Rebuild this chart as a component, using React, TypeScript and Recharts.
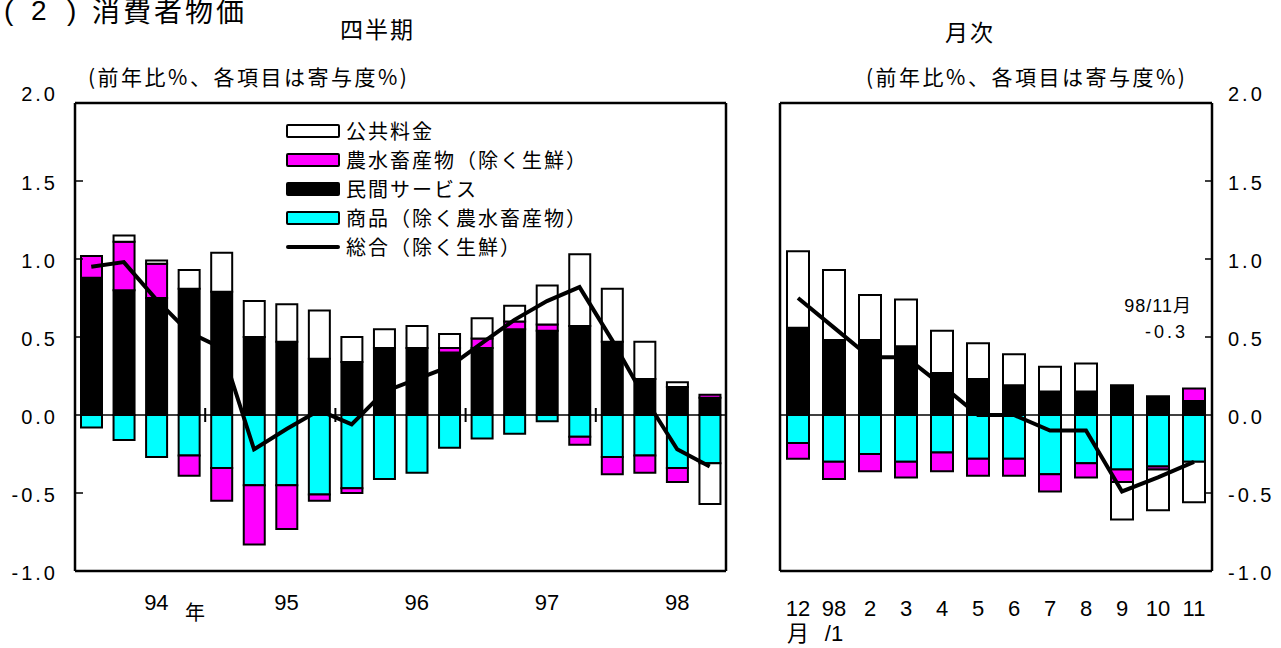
import { ComposedChart, Bar, Line, XAxis, YAxis, ReferenceLine, Legend, CartesianGrid } from 'recharts'

const NUM_FONT = "'Liberation Sans', Arial, 'Noto Sans CJK JP', sans-serif"
const JP_FONT = "'Noto Sans CJK JP', 'Noto Sans CJK SC', sans-serif"

// 四半期 (94/1Q - 98/4Q)
const quarters = [
  '94Q1', '94Q2', '94Q3', '94Q4', '95Q1', '95Q2', '95Q3', '95Q4', '96Q1', '96Q2',
  '96Q3', '96Q4', '97Q1', '97Q2', '97Q3', '97Q4', '98Q1', '98Q2', '98Q3', '98Q4',
]
const quarterTickLabels = ['', '', '94', '', '', '', '95', '', '', '', '96', '', '', '', '97', '', '', '', '98', '']
const yearStarts = ['95Q1', '96Q1', '97Q1', '98Q1']
const qPublic = [0, 0.04, 0.02, 0.12, 0.25, 0.23, 0.24, 0.31, 0.16, 0.12, 0.14, 0.09, 0.13, 0.1, 0.25, 0.46, 0.34, 0.24, 0.03, -0.26]
const qFarm = [0.14, 0.31, 0.22, -0.13, -0.21, -0.38, -0.28, -0.04, -0.03, 0, 0, 0.03, 0.06, 0.05, 0.04, -0.05, -0.11, -0.11, -0.09, 0.02]
const qServices = [0.88, 0.8, 0.75, 0.81, 0.79, 0.5, 0.47, 0.36, 0.34, 0.43, 0.43, 0.4, 0.43, 0.55, 0.54, 0.57, 0.47, 0.23, 0.18, 0.11]
const qGoods = [-0.08, -0.16, -0.27, -0.26, -0.34, -0.45, -0.45, -0.51, -0.47, -0.41, -0.37, -0.21, -0.15, -0.12, -0.04, -0.14, -0.27, -0.26, -0.34, -0.31]
const qTotal = [0.95, 0.98, 0.74, 0.53, 0.43, -0.22, -0.09, 0.03, -0.06, 0.15, 0.23, 0.31, 0.46, 0.61, 0.73, 0.82, 0.48, 0.11, -0.22, -0.33]

// 月次 (97/12 - 98/11)
const months = ['97/12', '98/1', '98/2', '98/3', '98/4', '98/5', '98/6', '98/7', '98/8', '98/9', '98/10', '98/11']
const monthTickTop = ['12', '98', '2', '3', '4', '5', '6', '7', '8', '9', '10', '11']
const monthTickBottom = ['月', '/1', '', '', '', '', '', '', '', '', '', '']
const mPublic = [0.49, 0.45, 0.29, 0.3, 0.27, 0.23, 0.2, 0.16, 0.18, -0.24, -0.26, -0.26]
const mFarm = [-0.1, -0.11, -0.11, -0.1, -0.12, -0.11, -0.11, -0.11, -0.09, -0.08, -0.02, 0.08]
const mServices = [0.56, 0.48, 0.48, 0.44, 0.27, 0.23, 0.19, 0.15, 0.15, 0.19, 0.12, 0.09]
const mGoods = [-0.18, -0.3, -0.25, -0.3, -0.24, -0.28, -0.28, -0.38, -0.31, -0.35, -0.33, -0.3]
const mTotal = [0.75, 0.56, 0.37, 0.37, 0.19, 0, 0, -0.1, -0.1, -0.49, -0.4, -0.3]

const yTicks = [-1, -0.5, 0, 0.5, 1, 1.5, 2]
const yMinorTicks = [1.5, 1, 0.5, -0.5]

// stack order: first series sits next to zero on each side
const SERIES = [
  { key: 'goods', name: '商品（除く農水畜産物）', color: '#00ffff' },
  { key: 'services', name: '民間サービス', color: '#000000' },
  { key: 'farm', name: '農水畜産物（除く生鮮）', color: '#ff00ff' },
  { key: 'public', name: '公共料金', color: '#ffffff' },
]
const TOTAL_NAME = '総合（除く生鮮）'
const LEGEND_ORDER = ['public', 'farm', 'services', 'goods']

const quarterData = quarters.map((q, i) => ({
  q, public: qPublic[i], farm: qFarm[i], services: qServices[i], goods: qGoods[i], total: qTotal[i],
}))
const monthData = months.map((m, i) => ({
  m, public: mPublic[i], farm: mFarm[i], services: mServices[i], goods: mGoods[i], total: mTotal[i],
}))

// plot frame: grid lines only on the four edges of the plot area
const frameH = ({ offset }: any) => [offset.top, offset.top + offset.height]
const frameV = ({ offset }: any) => [offset.left, offset.left + offset.width]
const frame = (
  <CartesianGrid
    stroke="#000"
    strokeWidth={2.5}
    horizontalCoordinatesGenerator={frameH}
    verticalCoordinatesGenerator={frameV}
  />
)

const stackBars = (size: number) =>
  SERIES.map(s => (
    <Bar
      key={s.key}
      dataKey={s.key}
      name={s.name}
      stackId="cpi"
      fill={s.color}
      stroke="#000"
      strokeWidth={2}
      barSize={size}
      isAnimationActive={false}
    />
  ))

// value label plus the short inward tick of the frame
const YTick = (side: 'left' | 'right', margin: number) => (props: any) => {
  const { x, y, payload } = props
  const v = Number(payload.value)
  const axisX = side === 'left' ? x + margin : x - margin
  const inner = side === 'left' ? axisX + 8 : axisX - 7
  return (
    <g>
      {yMinorTicks.includes(v) && <line x1={axisX} x2={inner} y1={y} y2={y} stroke="#000" strokeWidth={1.5} />}
      <text
        x={x}
        y={y + (v === 2 ? -9 : 1.5)}
        dy="0.36em"
        textAnchor={side === 'left' ? 'end' : 'start'}
        fontSize={20}
        letterSpacing={3}
        fontFamily={NUM_FONT}
        fill="#000"
      >
        {v.toFixed(1)}
      </text>
    </g>
  )
}

const QuarterTick = (props: any) => {
  const { x, y, payload } = props
  const label = quarterTickLabels[quarters.indexOf(payload.value)]
  return (
    <text x={x} y={y + 39} textAnchor="middle" fontSize={22} fontFamily={NUM_FONT} fill="#000">
      {label}
    </text>
  )
}

const MonthTick = (props: any) => {
  const { x, y, payload } = props
  const i = months.indexOf(payload.value)
  return (
    <g>
      <text x={x} y={y + 45} textAnchor="middle" fontSize={22} fontFamily={NUM_FONT} fill="#000">
        {monthTickTop[i]}
      </text>
      <text x={x} y={y + 70} textAnchor="middle" fontSize={22} fontFamily={NUM_FONT} fill="#000">
        {monthTickBottom[i]}
      </text>
    </g>
  )
}

function LegendBox() {
  const rows = LEGEND_ORDER.map(k => SERIES.find(s => s.key === k)!)
  return (
    <div style={{ fontFamily: JP_FONT, fontSize: 20, color: '#000' }}>
      {rows.map(s => (
        <div key={s.key} style={{ display: 'flex', alignItems: 'center', height: 29 }}>
          <div style={{ width: 50, height: 10, background: s.color, border: '2px solid #000', borderRadius: 2 }} />
          <span style={{ marginLeft: 6, letterSpacing: 2, lineHeight: 1 }}>{s.name}</span>
        </div>
      ))}
      <div style={{ display: 'flex', alignItems: 'center', height: 29 }}>
        <div style={{ width: 54, height: 4, background: '#000', borderRadius: 2 }} />
        <span style={{ marginLeft: 6, letterSpacing: 2, lineHeight: 1 }}>{TOTAL_NAME}</span>
      </div>
    </div>
  )
}

const textStyle = (left: number, top: number, size: number, extra: any = {}) => ({
  position: 'absolute' as const,
  left,
  top,
  fontSize: size,
  lineHeight: 1,
  whiteSpace: 'nowrap' as const,
  fontFamily: JP_FONT,
  color: '#000',
  ...extra,
})

export default function App() {
  return (
    <div style={{ position: 'absolute', left: 0, top: 0, width: 1281, height: 648, overflow: 'hidden', background: '#fff' }}>
      <div style={{ position: 'absolute', left: 0, top: 0 }}>
        <ComposedChart
          width={760}
          height={648}
          data={quarterData}
          stackOffset="sign"
          margin={{ top: 103, right: 34, bottom: 47, left: 15 }}
        >
          {frame}
          <XAxis
            dataKey="q"
            interval={0}
            axisLine={false}
            tickLine={false}
            tickSize={0}
            tickMargin={0}
            height={30}
            tick={QuarterTick}
          />
          <YAxis
            domain={[-1, 2]}
            ticks={yTicks}
            interval={0}
            axisLine={false}
            tickLine={false}
            tickSize={0}
            tickMargin={17}
            width={60}
            tick={YTick('left', 17)}
          />
          {stackBars(21)}
          <ReferenceLine y={0} stroke="#000" strokeWidth={1.5} />
          {yearStarts.map(q => (
            <ReferenceLine
              key={q}
              position="start"
              segment={[{ x: q, y: -0.045 }, { x: q, y: 0.045 }]}
              stroke="#000"
              strokeWidth={2}
            />
          ))}
          <Line dataKey="total" name={TOTAL_NAME} type="linear" stroke="#000" strokeWidth={4} dot={false} isAnimationActive={false} />
          <Legend
            verticalAlign="middle"
            align="center"
            layout="horizontal"
            wrapperStyle={{ left: 286, top: 116, width: 330 }}
            content={() => <LegendBox />}
          />
        </ComposedChart>
      </div>

      <div style={{ position: 'absolute', left: 760, top: 0 }}>
        <ComposedChart
          width={521}
          height={648}
          data={monthData}
          stackOffset="sign"
          margin={{ top: 103, right: 9, bottom: 47, left: 20 }}
        >
          {frame}
          <XAxis
            dataKey="m"
            interval={0}
            axisLine={false}
            tickLine={false}
            tickSize={0}
            tickMargin={0}
            height={30}
            tick={MonthTick}
          />
          <YAxis
            orientation="right"
            domain={[-1, 2]}
            ticks={yTicks}
            interval={0}
            axisLine={false}
            tickLine={false}
            tickSize={0}
            tickMargin={16}
            width={60}
            tick={YTick('right', 16)}
          />
          {stackBars(22)}
          <ReferenceLine y={0} stroke="#000" strokeWidth={1.5} />
          <Line dataKey="total" name={TOTAL_NAME} type="linear" stroke="#000" strokeWidth={4} dot={false} isAnimationActive={false} />
        </ComposedChart>
      </div>

      <div style={textStyle(4, -3, 28, { fontFamily: NUM_FONT })}>(</div>
      <div style={textStyle(31, -3, 28, { fontFamily: NUM_FONT })}>2</div>
      <div style={textStyle(67, -3, 28, { fontFamily: NUM_FONT })}>)</div>
      <div style={textStyle(92, -4, 28, { letterSpacing: 3 })}>消費者物価</div>

      <div style={textStyle(340, 17, 23, { letterSpacing: 2 })}>四半期</div>
      <div style={textStyle(945, 20, 23, { letterSpacing: 2 })}>月次</div>

      <div style={textStyle(88, 66, 21, { letterSpacing: 2.5 })}>(前年比%、各項目は寄与度%)</div>
      <div style={textStyle(866, 66, 21, { letterSpacing: 2.5 })}>(前年比%、各項目は寄与度%)</div>

      <div style={textStyle(185, 602, 20)}>年</div>

      <div style={textStyle(1092, 297, 18, { width: 100, textAlign: 'right', fontFamily: NUM_FONT, letterSpacing: 1 })}>98/11月</div>
      <div style={textStyle(1088, 323, 18, { width: 100, textAlign: 'right', fontFamily: NUM_FONT, letterSpacing: 3 })}>-0.3</div>
    </div>
  )
}
